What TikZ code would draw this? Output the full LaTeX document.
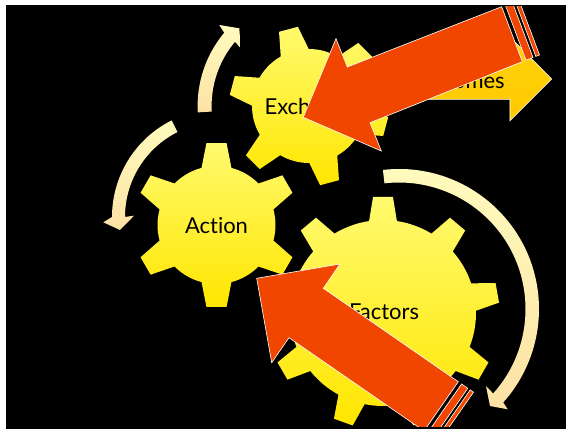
\documentclass[tikz,border=0pt]{standalone}
\usepackage{fontspec}
\setmainfont[Ligatures=NoCommon]{Lato}
\definecolor{orangearrow}{RGB}{240,70,0}
\definecolor{geartop}{RGB}{255,250,110}
\definecolor{gearbot}{RGB}{255,230,0}
\definecolor{curvetop}{RGB}{255,252,190}
\definecolor{curvebot}{RGB}{253,225,165}
\definecolor{outtop}{RGB}{255,212,10}
\definecolor{outbot}{RGB}{255,200,0}
\newcommand{\gearshape}[8]{% cx,cy,R,r,tip half,base half,n,rot
  \path[gearfill,shift={(#1,#2)}] ({#8-#6}:#3)
    \foreach \k [evaluate=\k as \a using #8+360*\k/#7] in {1,...,#7} {
      -- ({\a-360/#7-#6}:#3) -- ({\a-360/#7-#5}:#4) -- ({\a-360/#7+#5}:#4) -- ({\a-360/#7+#6}:#3)
      arc[start angle={\a-360/#7+#6},end angle={\a-#6},radius=#3]
    } -- cycle;
}
\newcommand{\curvearrow}[9]{% cx,cy,ro,ri,A1,A2,wing1,tip,wing2
  \path[curvefill,shift={(#1,#2)}] (#5:#3) arc[start angle=#5,end angle=#6,radius=#3]
    -- #7 -- #8 -- #9 -- (#6:#4) arc[start angle=#6,end angle=#5,radius=#4] -- cycle;
}
\tikzset{
  gearfill/.style={top color=geartop,bottom color=gearbot},
  curvefill/.style={top color=curvetop,bottom color=curvebot},
  bigarrow/.style={fill=orangearrow,draw=white,line width=0.35pt,line join=miter},
  gearlabel/.style={font=\fontsize{12.5pt}{15pt}\selectfont,text=black,inner sep=0pt}
}
\begin{document}
\begin{tikzpicture}[x=0.02cm,y=-0.02cm]
\useasboundingbox (0,0) rectangle (566,429);
\fill[white] (0,0) rectangle (566,429);
\fill[black] (6,5) rectangle (566,429);
% yellow arrow
\path[top color=outtop,bottom color=outbot,draw=white,line width=0.3pt]
  (385,58.7) -- (510,58.7) -- (510,37) -- (551.7,79) -- (510,120.7) -- (510,99.3) -- (385,99.3) -- cycle;
\node[gearlabel] (outcomes) at (455,80.5) {Outcomes};
% gears
\gearshape{216.5}{225}{59}{82.5}{7}{14.7}{6}{90}
\gearshape{309}{106}{57}{80}{7}{14.7}{6}{-105}
\gearshape{383}{313}{93}{116.5}{4.9}{8.6}{9}{-90}
\node[gearlabel] (action) at (216.5,226) {Action};
\node[gearlabel] (exchange) at (310.5,108) {Exchange};
\node[gearlabel] (factors) at (384,311.5) {Factors};
% curved arrows
\curvearrow{399}{309}{140}{126.5}{-96.6}{41.9}{(108.7,100.3)}{(91,97)}{(87,77)}
\curvearrow{220}{217}{108}{95}{-116.6}{-180}{(-116.7,5.3)}{(-100,13)}{(-86,-1.3)}
\curvearrow{311.6}{106}{114}{100}{-183.2}{-140}{(-92.3,-81)}{(-72.3,-77.7)}{(-70.9,-57.7)}
% orange arrows
\begin{scope}
\clip (6,6.7) rectangle (566,426.7);
\path[bigarrow] (303.3,117.3) -- (336,38.7) -- (347.3,67) -- (501.7,6.7) -- (522.3,61.7) -- (370,122.7) -- (381.3,151) -- cycle;
\path[bigarrow] (505.4,5.2) -- (526,60.2) -- (533,57.5) -- (512.4,2.5) -- cycle;
\path[bigarrow] (515.2,1.4) -- (535.8,56.4) -- (539.5,54.9) -- (518.9,0) -- cycle;
\path[bigarrow] (256.7,278.3) -- (340,264) -- (323.3,288.3) -- (458.3,381.7) -- (424,431) -- (289,337.7) -- (271.7,362.7) -- cycle;
\path[bigarrow] (461.6,384) -- (427.3,433.3) -- (433.5,437.6) -- (467.8,388.3) -- cycle;
\path[bigarrow] (470.2,389.9) -- (435.9,439.2) -- (439.2,441.5) -- (473.5,392.2) -- cycle;
\end{scope}
\end{tikzpicture}
\end{document}
